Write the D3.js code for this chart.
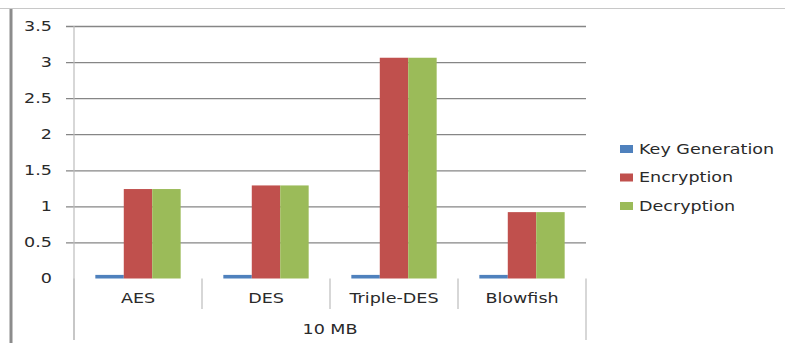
<!DOCTYPE html>
<html>
<head>
<meta charset="utf-8">
<script src="https://cdn.jsdelivr.net/npm/d3@7"></script>
<style>
  html, body { margin: 0; padding: 0; background: #fff; }
  svg { display: block; font-family: "DejaVu Sans", Verdana, sans-serif; }
</style>
</head>
<body>
<svg id="chart" width="785" height="343"></svg>
<script>
// Processing time (s) for a 10 MB file
const categories = ["AES", "DES", "Triple-DES", "Blowfish"];
const seriesNames = ["Key Generation", "Encryption", "Decryption"];
const keyGeneration = [0.05, 0.05, 0.05, 0.05];
const encryption = [1.24, 1.29, 3.06, 0.92];
const decryption = [1.24, 1.29, 3.06, 0.92];
const yTicks = [0, 0.5, 1, 1.5, 2, 2.5, 3, 3.5];
const groupLabel = "10 MB";
const colors = ["#4F81BD", "#C0504D", "#9BBB59"];

const seriesValues = [keyGeneration, encryption, decryption];

const svg = d3.select("#chart");
const plot = { left: 74, right: 586, top: 26, bottom: 278.5 };
const FONT = 13.5, STRETCH = 1.3, INK = "#2a2a2a";

// text drawn with a wide horizontal stretch, anchored at (x, y)
function label(parent, x, y, txt, anchor) {
  return parent.append("g").attr("transform", `translate(${x},${y}) scale(${STRETCH},1)`)
    .append("text").attr("text-anchor", anchor).attr("dy", "0.36em")
    .attr("font-size", FONT).attr("fill", INK).text(txt);
}

// frame of the chart area
svg.append("line").attr("x1", 0).attr("x2", 785).attr("y1", 8.5).attr("y2", 8.5)
  .attr("stroke", "#c8c8c8").attr("stroke-width", 1);
svg.append("line").attr("x1", 11).attr("x2", 11).attr("y1", 9).attr("y2", 343)
  .attr("stroke", "#8c8c8c").attr("stroke-width", 3);

const y = d3.scaleLinear().domain([0, 3.5]).range([plot.bottom, plot.top]);
const x0 = d3.scaleBand().domain(categories).range([plot.left, plot.right]).paddingInner(0).paddingOuter(0);
// 150% gap between groups, split evenly on both sides
const x1 = d3.scaleBand().domain(seriesNames).range([0, x0.bandwidth()]).paddingOuter(0.75).paddingInner(0);

// gridlines with small tick stubs to the left of the axis
const yAxis = d3.axisLeft(y).tickValues(yTicks)
  .tickSize(-(plot.right - plot.left) - 8).tickFormat("");
svg.append("g").attr("transform", `translate(${plot.left - 8},0)`).call(yAxis)
  .call(g => g.select(".domain").remove())
  .call(g => g.selectAll(".tick line").filter(d => d === 0).remove())
  .call(g => g.selectAll(".tick line").attr("stroke", "#868686").attr("stroke-width", 1.3));

// tick labels
const yLabels = svg.append("g");
yTicks.forEach(t => label(yLabels, 52, y(t), d3.format("")(t), "end"));

// vertical axis line
svg.append("line").attr("x1", plot.left).attr("x2", plot.left).attr("y1", plot.top).attr("y2", 340)
  .attr("stroke", "#bdbdbd").attr("stroke-width", 1.2);

// bars
const groups = svg.append("g").selectAll("g").data(categories).join("g")
  .attr("transform", d => `translate(${x0(d)},0)`);
groups.selectAll("rect")
  .data((c, i) => seriesNames.map((s, k) => ({ s, k, v: seriesValues[k][i] })))
  .join("rect")
  .attr("x", d => x1(d.s))
  .attr("width", x1.bandwidth())
  .attr("y", d => y(d.v))
  .attr("height", d => plot.bottom - y(d.v))
  .attr("fill", d => colors[d.k]);

// category separators below the axis
const bounds = categories.map(c => x0(c)).concat([plot.right]);
svg.append("g").selectAll("line").data(bounds).join("line")
  .attr("x1", d => d).attr("x2", d => d)
  .attr("y1", plot.bottom)
  .attr("y2", (d, i) => (i === 0 || i === bounds.length - 1) ? 340 : 309)
  .attr("stroke", "#bdbdbd").attr("stroke-width", 1.2);

// category labels
const catLabels = svg.append("g");
categories.forEach(c => label(catLabels, x0(c) + x0.bandwidth() / 2, 298, c, "middle"));

// group label
label(svg, (plot.left + plot.right) / 2, 329, groupLabel, "middle");

// legend
const legend = svg.append("g").attr("transform", "translate(620,149)");
seriesNames.forEach((s, i) => {
  const item = legend.append("g").attr("transform", `translate(0,${i * 28.5})`);
  item.append("rect").attr("x", 0).attr("y", -4).attr("width", 13).attr("height", 8)
    .attr("fill", colors[i]);
  label(item, 19, 0, s, "start");
});
</script>
</body>
</html>
